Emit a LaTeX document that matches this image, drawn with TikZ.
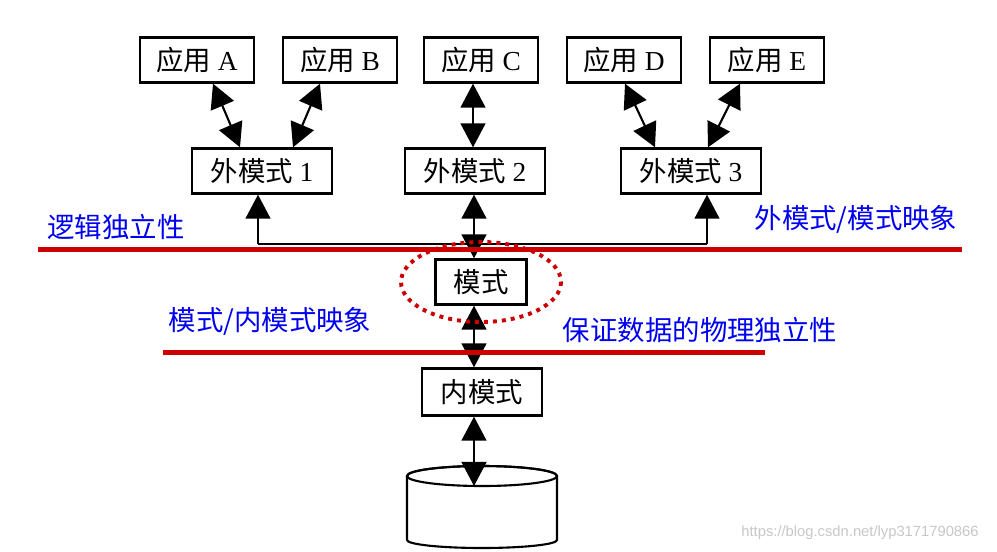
\documentclass[tikz,border=0pt]{standalone}
\usepackage{fontspec}
\setmainfont{Liberation Serif}
\newfontfamily\cjk{Noto Sans CJK SC}
\newfontfamily\wmfont{Liberation Sans}
\usetikzlibrary{arrows.meta,calc}

\definecolor{barred}{RGB}{204,0,0}
\definecolor{labelblue}{RGB}{0,0,240}

\begin{document}
\begin{tikzpicture}
		[x=0.025cm, y=-0.025cm,
		block/.style ={rectangle, draw=black, line width=1.8pt, fill=white, inner sep=0pt, minimum height=1.12cm, font=\fontsize{19.5}{23}\selectfont},
		app/.style = {block, minimum width=2.85cm},
		ext/.style = {block, minimum width=3.5cm},
		line/.style ={draw, line width=1.5pt, {Triangle[length=0.6cm,width=0.62cm]}-{Triangle[length=0.6cm,width=0.62cm]}},
		uparrow/.style ={draw, line width=1.5pt, -{Triangle[length=0.6cm,width=0.62cm]}},
		bar/.style ={draw=barred, line width=3.6pt},
		note/.style ={text=labelblue, font=\cjk\fontsize{19.5}{23}\selectfont},
		]
		\useasboundingbox (0,0) rectangle (997,551);

		% applications
		\draw (197,60) node[app] (A) {{\cjk 应用} A};
		\draw (340,60) node[app] (B) {{\cjk 应用} B};
		\draw (481,60) node[app] (C) {{\cjk 应用} C};
		\draw (624,60) node[app] (D) {{\cjk 应用} D};
		\draw (767,60) node[app] (E) {{\cjk 应用} E};

		% external schemas
		\draw (262,171) node[ext] (X1) {{\cjk 外模式} 1};
		\draw (475,171) node[ext] (X2) {{\cjk 外模式} 2};
		\draw (691,171) node[ext] (X3) {{\cjk 外模式} 3};

		% schema and internal schema
		\draw (481,282) node[block, minimum width=2.28cm] (S) {\cjk 模式};
		\draw (482,392) node[block, minimum width=3cm, minimum height=1.17cm] (I) {\cjk 内模式};

		% database
		\draw[line width=1.5pt, fill=white]
		(407,476) arc[start angle=180, end angle=360, x radius=75, y radius=10]
		-- (557,540) arc[start angle=0, end angle=180, x radius=75, y radius=8]
		-- cycle;
		\draw[line width=1.5pt] (482,476) ellipse[x radius=75, y radius=10];
		\coordinate (DB) at (474,486);

		\path[line]
		($(A.south)+(16,0)$) -- ($(X1.north)+(-22,0)$);
		\path[line]
		($(B.south)+(-20,0)$) -- ($(X1.north)+(31,0)$);
		\path[line]
		($(C.south)+(-8,0)$) -- ($(X2.north)+(-2,0)$);
		\path[line]
		($(D.south)+(1,0)$) -- ($(X3.north)+(-36,0)$);
		\path[line]
		($(E.south)+(-27,0)$) -- ($(X3.north)+(17,0)$);

		% mapping to schema
		\coordinate (HL) at (258,244);
		\coordinate (HR) at (707,244);
		\coordinate (ax) at (474,0);
		\draw[line width=1.5pt] (HL) -- (HR);
		\path[uparrow] (HL) -- (HL |- X1.south);
		\path[uparrow] (HR) -- (HR |- X3.south);
		\path[line] (ax |- X2.south) -- (ax |- S.north);
		\path[line] (ax |- S.south) -- (ax |- I.north);
		\path[line] (ax |- I.south) -- (DB);

		% independence bars
		\draw[bar] (38,249.5) -- (962,249.5);
		\draw[bar] (163,352.5) -- (765,352.5);
		\draw[barred, line width=2.8pt, dash pattern=on 2.8pt off 3.6pt] (S.center) ellipse[x radius=80, y radius=40];

		\node[note] (L1) at (116,227) {逻辑独立性};
		\node[note] (L2) at (856,219) {外模式/模式映象};
		\node[note] (L3) at (270,321) {模式/内模式映象};
		\node[note] (L4) at (700,330) {保证数据的物理独立性};

		\node[text=black!22, font=\wmfont\fontsize{10.5}{12}\selectfont] (W) at (860,533) {https://blog.csdn.net/lyp3171790866};

	\end{tikzpicture}
\end{document}
